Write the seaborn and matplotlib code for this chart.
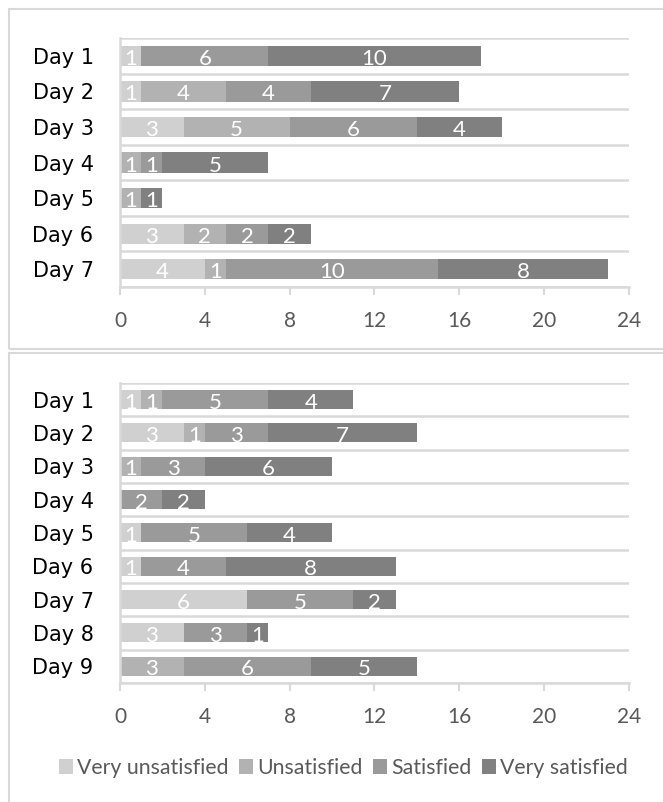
import numpy as np
import pandas as pd
import seaborn as sns
import matplotlib.pyplot as plt
from matplotlib.patches import Patch, Rectangle

# satisfaction levels and their grey shades
levels = ['Very unsatisfied', 'Unsatisfied', 'Satisfied', 'Very satisfied']
level_colors = ['#d0d0d0', '#b2b2b2', '#9a9a9a', '#808080']

# top chart
days_a = ['Day 1', 'Day 2', 'Day 3', 'Day 4', 'Day 5', 'Day 6', 'Day 7']
very_unsat_a = [1, 1, 3, 0, 0, 3, 4]
unsat_a = [0, 4, 5, 1, 1, 2, 1]
sat_a = [6, 4, 6, 1, 0, 2, 10]
very_sat_a = [10, 7, 4, 5, 1, 2, 8]

# bottom chart
days_b = ['Day 1', 'Day 2', 'Day 3', 'Day 4', 'Day 5', 'Day 6', 'Day 7', 'Day 8', 'Day 9']
very_unsat_b = [1, 3, 0, 0, 1, 1, 6, 3, 0]
unsat_b = [1, 1, 1, 0, 0, 0, 0, 0, 3]
sat_b = [5, 3, 3, 2, 5, 4, 5, 3, 6]
very_sat_b = [4, 7, 6, 2, 4, 8, 2, 1, 5]

x_ticks = [0, 4, 8, 12, 16, 20, 24]

sns.set_theme(style='white')
plt.rcParams['font.family'] = ['Lato', 'DejaVu Sans']

GRID = '#d9d9d9'
FS = 15


def draw_panel(ax, days, cols):
    df = pd.DataFrame(dict(zip(levels, cols)), index=days)
    cum = df.cumsum(axis=1)
    # stacked bars: draw the cumulative totals longest first
    for lvl, color in reversed(list(zip(levels, level_colors))):
        sns.barplot(x=cum[lvl].values, y=days, orient='h', color=color,
                    width=0.57, saturation=1, linewidth=0, edgecolor='none', ax=ax)
    for i, day in enumerate(days):
        for lvl in levels:
            v = df.loc[day, lvl]
            if v > 0:
                ax.text(cum.loc[day, lvl] - v / 2, i + 0.03, str(v), ha='center',
                        va='center_baseline', color='white', fontsize=16)
    n = len(days)
    ax.set_xlim(0, 24)
    ax.set_ylim(n - 0.5, -0.5)
    ax.set_xticks(x_ticks)
    ax.set_yticks(np.arange(-0.5, n, 1), minor=True)
    ax.yaxis.grid(True, which='minor', color=GRID, lw=1.8)
    ax.xaxis.grid(False)
    ax.set_axisbelow(True)
    ax.set_xlabel('')
    ax.set_ylabel('')
    for s in ['top', 'right']:
        ax.spines[s].set_visible(False)
    for s in ['left', 'bottom']:
        ax.spines[s].set_color(GRID)
        ax.spines[s].set_linewidth(1.8)
    ax.tick_params(axis='x', length=6, width=1.5, color=GRID, pad=11,
                   labelsize=FS, labelcolor='#595959', direction='out', bottom=True)
    ax.tick_params(axis='y', which='both', length=0, pad=19, labelcolor='black')
    for lab in ax.get_yticklabels():
        lab.set_fontfamily('DejaVu Sans')
        lab.set_fontsize(15)


fig = plt.figure(figsize=(6.63, 8.02), dpi=100)

# panel frames
fig.patches.append(Rectangle((0.0136, 0.5648), 1.1, 0.424, transform=fig.transFigure,
                             fill=False, edgecolor=GRID, lw=1.5))
fig.patches.append(Rectangle((0.0136, -0.1), 1.1, 0.6599, transform=fig.transFigure,
                             fill=False, edgecolor=GRID, lw=1.5))

ax1 = fig.add_axes([0.181, 0.6421, 0.7677, 0.3105])
draw_panel(ax1, days_a, [very_unsat_a, unsat_a, sat_a, very_sat_a])

ax2 = fig.add_axes([0.181, 0.1484, 0.7677, 0.3741])
draw_panel(ax2, days_b, [very_unsat_b, unsat_b, sat_b, very_sat_b])

handles = [Patch(facecolor=c, edgecolor='none') for c in level_colors]
fig.legend(handles, levels, loc='center', bbox_to_anchor=(0.518, 0.0424), ncol=4,
           frameon=False, fontsize=15.3, handlelength=0.65, handleheight=0.65,
           handletextpad=0.2, columnspacing=0.5, labelcolor='#595959')

fig.savefig('out.png', dpi=100)
